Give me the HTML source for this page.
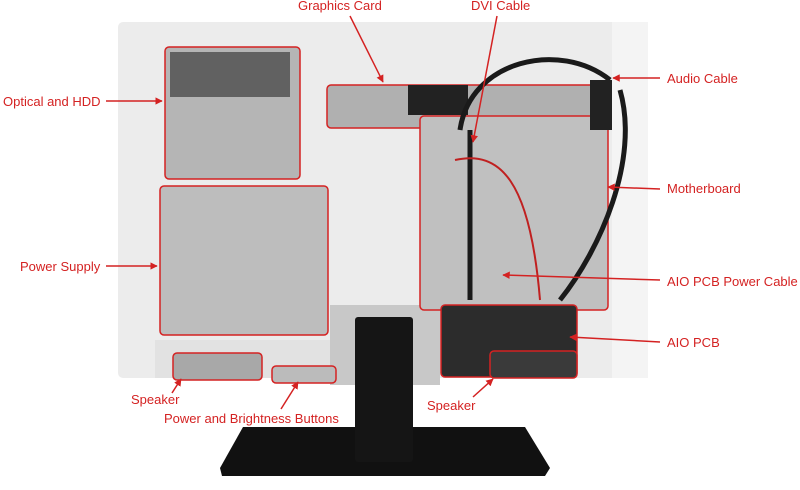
<!DOCTYPE html>
<html><head><meta charset="utf-8"><style>
html,body{margin:0;padding:0;background:#fff;width:800px;height:490px;overflow:hidden}
text{font-family:"Liberation Sans",sans-serif;font-size:13px;fill:#d42222}
</style></head><body>
<svg width="800" height="490" viewBox="0 0 800 490" xmlns="http://www.w3.org/2000/svg">
<defs><marker id="a" viewBox="0 0 10 10" refX="9" refY="5" markerWidth="5" markerHeight="5" orient="auto"><path d="M0,0L10,5L0,10z" fill="#d42222"/></marker></defs>
<!-- panel -->
<rect x="118" y="22" width="530" height="356" rx="5" fill="#ececec"/>
<rect x="612" y="22" width="36" height="356" fill="#f4f4f4"/>
<rect x="155" y="340" width="180" height="38" fill="#e2e2e2"/>
<rect x="330" y="305" width="110" height="80" fill="#c8c8c8"/>
<!-- compartments -->
<rect x="165" y="47" width="135" height="132" rx="4" fill="#b5b5b5" stroke="#d42222" stroke-width="1.5"/>
<rect x="170" y="52" width="120" height="45" fill="#2a2a2a" opacity=".6"/>
<rect x="160" y="186" width="168" height="149" rx="4" fill="#bdbdbd" stroke="#d42222" stroke-width="1.5"/>
<rect x="327" y="85" width="281" height="43" rx="4" fill="#b0b0b0" stroke="#d42222" stroke-width="1.5"/>
<rect x="408" y="85" width="60" height="30" fill="#222"/>
<rect x="420" y="116" width="188" height="194" rx="4" fill="#c0c0c0" stroke="#d42222" stroke-width="1.5"/>
<path d="M460,130 C470,60 560,40 610,80 M470,130 L470,300 M560,300 C600,250 640,160 620,90" stroke="#1a1a1a" stroke-width="5" fill="none"/>
<path d="M455,160 C500,150 530,180 540,300" stroke="#c02020" stroke-width="2" fill="none"/>
<rect x="590" y="80" width="22" height="50" fill="#222"/>
<rect x="441" y="305" width="136" height="72" rx="4" fill="#2c2c2c" stroke="#d42222" stroke-width="1.5"/>
<rect x="490" y="351" width="87" height="27" rx="4" fill="#3a3a3a" stroke="#d42222" stroke-width="1.5"/>
<rect x="173" y="353" width="89" height="27" rx="4" fill="#a8a8a8" stroke="#d42222" stroke-width="1.5"/>
<rect x="272" y="366" width="64" height="17" rx="4" fill="#bbb" stroke="#d42222" stroke-width="1.5"/>
<!-- stand -->
<path d="M243,427 L525,427 L550,468 L545,476 L222,476 L220,468 Z" fill="#111"/>
<rect x="355" y="317" width="58" height="145" rx="3" fill="#151515"/>
<!-- arrows -->
<g stroke="#d42222" stroke-width="1.5" fill="none" marker-end="url(#a)">
<line x1="106" y1="101" x2="162" y2="101"/>
<line x1="106" y1="266" x2="157" y2="266"/>
<line x1="350" y1="16" x2="383" y2="82"/>
<line x1="497" y1="16" x2="473" y2="142"/>
<line x1="660" y1="78" x2="613" y2="78"/>
<line x1="660" y1="189" x2="608" y2="187"/>
<line x1="660" y1="280" x2="503" y2="275"/>
<line x1="660" y1="342" x2="570" y2="337"/>
<line x1="172" y1="393" x2="181" y2="379"/>
<line x1="281" y1="409" x2="298" y2="382"/>
<line x1="473" y1="397" x2="493" y2="379"/>
</g>
<text x="3" y="106">Optical and HDD</text>
<text x="20" y="271">Power Supply</text>
<text x="298" y="10">Graphics Card</text>
<text x="471" y="10">DVI Cable</text>
<text x="667" y="83">Audio Cable</text>
<text x="667" y="193">Motherboard</text>
<text x="667" y="286">AIO PCB Power Cable</text>
<text x="667" y="347">AIO PCB</text>
<text x="131" y="404">Speaker</text>
<text x="164" y="423">Power and Brightness Buttons</text>
<text x="427" y="410">Speaker</text>
</svg>
</body></html>
